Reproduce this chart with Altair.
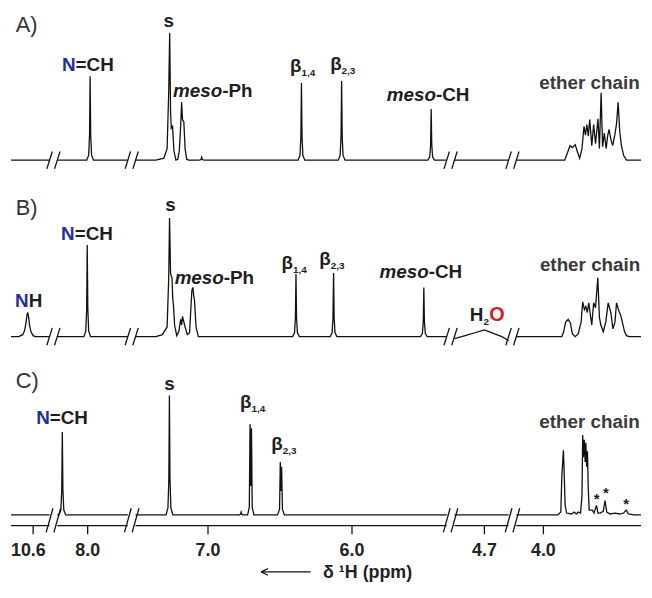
import altair as alt
import pandas as pd

FONT = "Liberation Sans"

# ---------------- data (ppm, relative intensity) ----------------
PANEL_KEYS = ["A", "B", "C"]
PANEL_TAGS = ["A)", "B)", "C)"]

# broken ppm axis: visible windows, left to right
SEG_PPM = [(10.754, 10.486), (8.211, 7.721), (7.503, 5.342), (4.908, 4.532), (4.188, 3.322)]

TICK_PPM = [10.6, 8.0, 7.0, 6.0, 4.7, 4.0]
TICK_TEXT = ["10.6", "8.0", "7.0", "6.0", "4.7", "4.0"]

# isolated sharp resonances
A_PEAK_PPM = [7.983, 7.044, 6.351, 6.072, 5.450]
A_PEAK_INT = [87, 3, 80, 82, 53]
B_PEAK_PPM = [8.003, 6.389, 6.128, 5.501]
B_PEAK_INT = [95, 65, 66, 51]
C_PEAK_PPM = [8.176, 7.268, 6.770]
C_PEAK_INT = [86, 124, 3]

# multiplet regions read point by point
A_ARO_PPM = [7.362, 7.307, 7.284, 7.273, 7.266, 7.260, 7.255, 7.246, 7.237, 7.223, 7.210,
             7.199, 7.190, 7.183, 7.177, 7.168, 7.159, 7.148, 7.134]
A_ARO_INT = [0, 2, 12, 70, 132, 50, 33, 35, 10, 0, 1, 10, 35, 60, 42, 40, 12, 1, 0]

A_ETH_PPM = [3.852, 3.832, 3.815, 3.799, 3.779, 3.762, 3.748, 3.732, 3.718, 3.708, 3.698,
             3.688, 3.678, 3.664, 3.651, 3.638, 3.621, 3.611, 3.599, 3.589, 3.577, 3.564,
             3.554, 3.544, 3.532, 3.519, 3.503, 3.492, 3.481, 3.470, 3.458, 3.443, 3.423]
A_ETH_INT = [0, 8, 15, 13, 16, 8, 2, 12, 35, 26, 37, 25, 42, 15, 37, 17, 43, 12, 70, 14,
             28, 12, 25, 32, 22, 15, 27, 38, 60, 30, 15, 5, 0]

B_NH_PPM = [10.700, 10.672, 10.660, 10.650, 10.643, 10.638, 10.632, 10.625, 10.615, 10.600, 10.585]
B_NH_INT = [0, 2, 6, 14, 22, 25, 21, 12, 5, 1, 0]

B_ARO_PPM = [7.362, 7.317, 7.284, 7.273, 7.267, 7.260, 7.250, 7.245, 7.240, 7.232, 7.217,
             7.201, 7.190, 7.183, 7.177, 7.161, 7.143, 7.128, 7.112, 7.105, 7.099, 7.094,
             7.083, 7.067]
B_ARO_INT = [0, 2, 10, 60, 123, 65, 61, 40, 33, 12, 1, 6, 18, 12, 21, 11, 2, 4, 48, 51,
             42, 38, 10, 0]

B_H2O_PPM = [4.908, 4.834, 4.767, 4.700, 4.633, 4.579, 4.532]
B_H2O_INT = [-2, 1, 4, 7, 3, 0, -4]

B_ETH_PPM = [3.872, 3.859, 3.846, 3.828, 3.812, 3.799, 3.779, 3.758, 3.738, 3.727, 3.715,
             3.705, 3.695, 3.685, 3.664, 3.651, 3.638, 3.622, 3.611, 3.601, 3.584, 3.567,
             3.550, 3.532, 3.517, 3.503, 3.492, 3.477, 3.463, 3.452, 3.436, 3.423, 3.403]
B_ETH_INT = [0, 5, 15, 18, 14, 3, 0, 3, 15, 36, 28, 31, 25, 35, 12, 35, 30, 61, 20, 12,
             5, 15, 35, 25, 8, 15, 35, 27, 22, 15, 5, 1, 0]

C_B14_PPM = [6.725, 6.713, 6.708, 6.703, 6.698, 6.693, 6.681]
C_B14_INT = [0, 8, 94, 30, 90, 8, 0]
C_B23_PPM = [6.517, 6.503, 6.498, 6.493, 6.489, 6.483, 6.470]
C_B23_INT = [0, 6, 55, 25, 50, 6, 0]

C_ETH_PPM = [3.899, 3.879, 3.872, 3.866, 3.861, 3.856, 3.849, 3.839, 3.805, 3.785, 3.772,
             3.758, 3.742, 3.732, 3.727, 3.722, 3.716, 3.710, 3.705, 3.700, 3.694, 3.689,
             3.682, 3.660, 3.648, 3.631, 3.621, 3.604, 3.584, 3.572, 3.560, 3.537, 3.503,
             3.470, 3.443, 3.425, 3.409, 3.369]
C_ETH_INT = [0, 3, 40, 55, 67, 45, 10, 2, 1, 3, 1, 3, 2, 20, 83, 60, 78, 55, 75, 50, 66,
             30, 5, 5, 2, 10, 2, 2, 4, 15, 3, 1, 2, 1, 2, 5, 1, 0]

PEAKS = {"A": (A_PEAK_PPM, A_PEAK_INT), "B": (B_PEAK_PPM, B_PEAK_INT), "C": (C_PEAK_PPM, C_PEAK_INT)}
PROFILES = {
    "A": [(A_ARO_PPM, A_ARO_INT), (A_ETH_PPM, A_ETH_INT)],
    "B": [(B_NH_PPM, B_NH_INT), (B_ARO_PPM, B_ARO_INT), (B_H2O_PPM, B_H2O_INT), (B_ETH_PPM, B_ETH_INT)],
    "C": [(C_B14_PPM, C_B14_INT), (C_B23_PPM, C_B23_INT), (C_ETH_PPM, C_ETH_INT)],
}

# annotations: panel, text, anchor ppm, x shift, height above baseline, style
LABELS = [
    ("A", "s", 7.266, -1, 138, "center"),
    ("A", "N", 7.983, -15, 92, "blue"),
    ("A", "=CH", 7.983, -15, 92, "left"),
    ("A", "meso", 7.183, 42, 66, "italic"),
    ("A", "-Ph", 7.183, 42, 66, "left"),
    ("A", "β", 6.351, 0, 91, "right"),
    ("A", "1,4", 6.351, 0, 87, "sub"),
    ("A", "β", 6.072, 0, 93, "right"),
    ("A", "2,3", 6.072, 0, 89, "sub"),
    ("A", "meso", 5.450, 5, 61, "italic"),
    ("A", "-CH", 5.450, 5, 61, "left"),
    ("A", "ether chain", 3.599, -12, 74, "grey"),
    ("B", "s", 7.267, 1, 130, "center"),
    ("B", "N", 8.003, -13, 100, "blue"),
    ("B", "=CH", 8.003, -13, 100, "left"),
    ("B", "N", 10.638, 1, 31, "blue"),
    ("B", "H", 10.638, 1, 31, "left"),
    ("B", "meso", 7.105, 32, 55, "italic"),
    ("B", "-Ph", 7.105, 32, 55, "left"),
    ("B", "β", 6.389, -3, 70, "right"),
    ("B", "1,4", 6.389, -3, 66, "sub"),
    ("B", "β", 6.128, -3, 74, "right"),
    ("B", "2,3", 6.128, -3, 70, "sub"),
    ("B", "meso", 5.501, 5, 61, "italic"),
    ("B", "-CH", 5.501, 5, 61, "left"),
    ("B", "H", 4.700, -1, 16, "right"),
    ("B", "2", 4.700, -1, 12, "sub"),
    ("B", "O", 4.700, 5, 16, "red"),
    ("B", "ether chain", 3.622, -8, 68, "grey"),
    ("C", "s", 7.268, 0, 130, "center"),
    ("C", "N", 8.176, -13, 94, "blue"),
    ("C", "=CH", 8.176, -13, 94, "left"),
    ("C", "β", 6.705, 1, 111, "right"),
    ("C", "1,4", 6.705, 1, 107, "sub"),
    ("C", "β", 6.495, 2, 67, "right"),
    ("C", "2,3", 6.495, 2, 63, "sub"),
    ("C", "ether chain", 3.727, 7, 90, "grey"),
    ("C", "*", 3.631, 0, 11, "star"),
    ("C", "*", 3.572, 1, 18, "star"),
    ("C", "*", 3.425, 0, 6, "star"),
]

# ---------------- layout (reference pixel frame) ----------------
W_REF, H_REF = 652, 598
PX_PER_PPM = 149
GAP = 8
PANEL_BASE = [155, 338, 523]
TAG_RISE = [133, 126, 132]
AXIS_OFF = 11
TICK_LEN = 9
TICK_LABEL_Y = 566
TICK_LABEL_DX = [-5, 0, 0, 0, 0, 0]

SEG_X0 = []
_x = 0.0
for a, b in SEG_PPM:
    SEG_X0.append(_x)
    _x += (a - b) * PX_PER_PPM + GAP


def seg_of(ppm):
    for i, (a, b) in enumerate(SEG_PPM):
        if b - 1e-6 <= ppm <= a + 1e-6:
            return i
    return None


def to_x(ppm, i=None):
    if i is None:
        i = seg_of(ppm)
    a, b = SEG_PPM[i]
    return SEG_X0[i] + (a - ppm) * PX_PER_PPM


PEAK_DX = [-3.5, -1.5, -0.6, 0, 0.6, 1.5, 3.5]
PEAK_FR = [0, 0.06, 0.3, 1, 0.3, 0.06, 0]

line_rows = []
for p, key in enumerate(PANEL_KEYS):
    base = PANEL_BASE[p]
    pts = {}
    for a, b in SEG_PPM:
        pts[round(a, 4)] = 0
        pts[round(b, 4)] = 0
    for ppm, h in zip(*PEAKS[key]):
        for dx, fr in zip(PEAK_DX, PEAK_FR):
            pts[round(ppm - dx / PX_PER_PPM, 4)] = h * fr
    for pp, ii in PROFILES[key]:
        for ppm, h in zip(pp, ii):
            pts[round(ppm, 4)] = h
    for ppm, h in pts.items():
        i = seg_of(ppm)
        if i is None:
            continue
        line_rows.append({"key": f"{key}{i}", "x": to_x(ppm, i), "y": base - h})
lines_df = pd.DataFrame(line_rows)

# axis baseline (panel C) segments + break marks
seg_rows = []
brk_rows = []
axis_y = PANEL_BASE[2] + AXIS_OFF
for i, (a, b) in enumerate(SEG_PPM):
    seg_rows.append({"x": to_x(a, i), "x2": to_x(b, i), "y": axis_y})
for p in range(3):
    base = PANEL_BASE[p]
    if p == 2:
        ybot, ytop, hw = axis_y + 7, base - 7, 3.5
    else:
        ybot, ytop, hw = base + 9, base - 9, 2.8
    for i in range(len(SEG_PPM) - 1):
        for mx in (to_x(SEG_PPM[i][1], i), to_x(SEG_PPM[i + 1][0], i + 1)):
            brk_rows.append({"x": mx - hw, "x2": mx + hw, "y": ybot, "y2": ytop})
seg_df = pd.DataFrame(seg_rows)
brk_df = pd.DataFrame(brk_rows)

tick_x = [to_x(t) for t in TICK_PPM]
tick_df = pd.DataFrame({
    "x": tick_x,
    "lx": [x + d for x, d in zip(tick_x, TICK_LABEL_DX)],
    "y": [axis_y] * len(TICK_PPM),
    "y2": [axis_y + TICK_LEN] * len(TICK_PPM),
    "ly": [TICK_LABEL_Y] * len(TICK_PPM),
    "t": TICK_TEXT,
})

lab_rows = []
for panel, text, ppm, dx, h, style in LABELS:
    p = PANEL_KEYS.index(panel)
    lab_rows.append({"x": to_x(ppm) + dx, "y": PANEL_BASE[p] - h, "t": text, "s": style})
lab_df = pd.DataFrame(lab_rows)

tag_df = pd.DataFrame({"x": [5, 5, 5], "y": [PANEL_BASE[i] - TAG_RISE[i] for i in range(3)], "t": PANEL_TAGS})

title_df = pd.DataFrame({"x": [323], "y": [588], "t": ["δ ¹H (ppm)"]})
arrow_df = pd.DataFrame({"x": [259, 259, 259], "x2": [310, 266, 266], "y": [582, 582, 582], "y2": [582, 578.5, 585.5]})

# ---------------- chart ----------------
XS = alt.Scale(domain=[0, W_REF], nice=False, zero=False)
YS = alt.Scale(domain=[0, H_REF], nice=False, zero=False, reverse=True)
X = alt.X("x:Q", scale=XS, axis=None)
Y = alt.Y("y:Q", scale=YS, axis=None)
INK = "#111111"

spectra = alt.Chart(lines_df).mark_line(color=INK, strokeWidth=1.3, interpolate="linear").encode(
    x=X, y=Y, detail="key:N", order="x:Q")

axis_line = alt.Chart(seg_df).mark_rule(color=INK, strokeWidth=1.3).encode(x=X, x2="x2:Q", y=Y)
breaks = alt.Chart(brk_df).mark_rule(color=INK, strokeWidth=1.3).encode(x=X, x2="x2:Q", y=Y, y2="y2:Q")
ticks = alt.Chart(tick_df).mark_rule(color=INK, strokeWidth=1.3).encode(x=X, y=Y, y2="y2:Q")
tick_labels = alt.Chart(tick_df).mark_text(font=FONT, fontSize=18, fontWeight="bold", color="#222222",
                                           baseline="alphabetic", align="center").encode(
    x=alt.X("lx:Q", scale=XS, axis=None), y=alt.Y("ly:Q", scale=YS, axis=None), text="t:N")

title = alt.Chart(title_df).mark_text(font=FONT, fontSize=18, fontWeight="bold", color="#222222",
                                      baseline="alphabetic", align="left").encode(x=X, y=Y, text="t:N")
arrow = alt.Chart(arrow_df).mark_rule(color=INK, strokeWidth=1.2).encode(x=X, x2="x2:Q", y=Y, y2="y2:Q")

tags = alt.Chart(tag_df).mark_text(font=FONT, fontSize=22, color="#333333", baseline="alphabetic",
                                   align="left").encode(x=X, y=Y, text="t:N")

STYLES = {
    "center": dict(fontSize=19, fontWeight="bold", color="#1e1e1e", align="center"),
    "left": dict(fontSize=19, fontWeight="bold", color="#1e1e1e", align="left"),
    "right": dict(fontSize=19, fontWeight="bold", color="#1e1e1e", align="right"),
    "blue": dict(fontSize=19, fontWeight="bold", color="#1f2f9e", align="right"),
    "italic": dict(fontSize=19, fontWeight="bold", fontStyle="italic", color="#1e1e1e", align="right"),
    "sub": dict(fontSize=10, fontWeight="bold", color="#1e1e1e", align="left"),
    "red": dict(fontSize=20, fontWeight="bold", color="#cc2424", align="left"),
    "grey": dict(fontSize=19, fontWeight="bold", color="#3a3a3a", align="center"),
    "star": dict(fontSize=15, fontWeight="bold", color="#1e1e1e", align="center"),
}
label_layers = []
for s, kw in STYLES.items():
    sub = lab_df[lab_df["s"] == s]
    if len(sub) == 0:
        continue
    label_layers.append(alt.Chart(sub).mark_text(font=FONT, baseline="alphabetic", **kw).encode(
        x=X, y=Y, text="t:N"))

chart = alt.layer(spectra, axis_line, breaks, ticks, tick_labels, title, arrow, tags, *label_layers).properties(
    width=636, height=582, padding=0
).configure_view(stroke=None)

chart.save("out.html", embed_options={"renderer": "svg", "actions": False})
